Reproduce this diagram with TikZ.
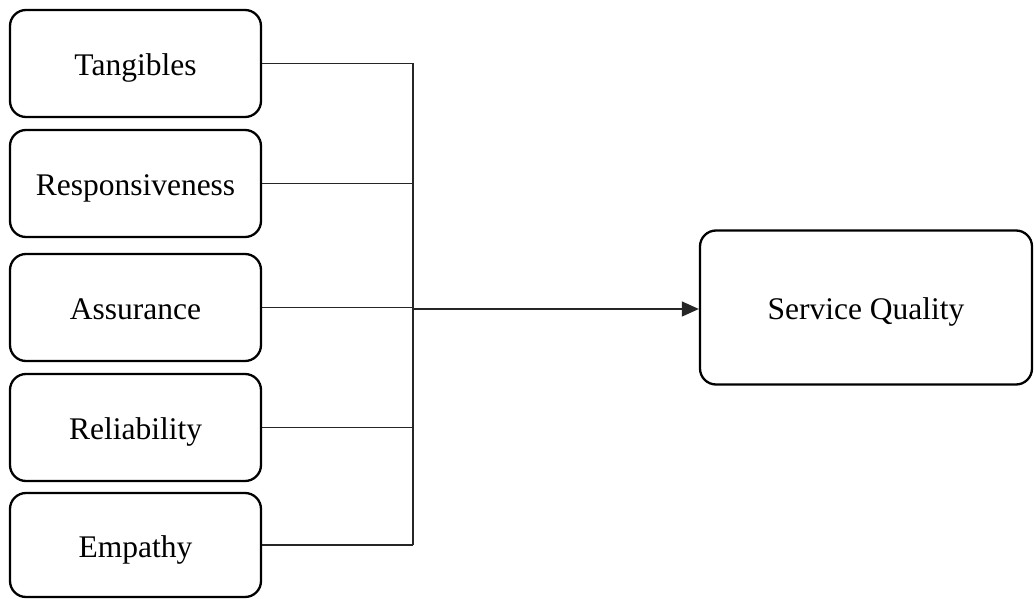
\documentclass[tikz,border=0pt]{standalone}
\usepackage{fontspec}
\setmainfont{Liberation Serif}
\usetikzlibrary{arrows.meta}
\begin{document}
\begin{tikzpicture}[x=1pt,y=-1pt,
  box/.style={draw=black, line width=2.3pt, rounded corners=16pt, inner sep=0pt,
    text height=24pt, text depth=0pt,
    font=\fontsize{31.5}{36}\selectfont},
  conn/.style={draw=black!85, line width=1.3pt}]
\useasboundingbox (0,0) rectangle (1034,599);
\node[box, minimum width=251pt, minimum height=107pt] (tan) at (135.5,63.5) {Tangibles};
\node[box, minimum width=251pt, minimum height=107pt] (res) at (135.5,183.5) {Responsiveness};
\node[box, minimum width=251pt, minimum height=107pt] (ass) at (135.5,307.5) {Assurance};
\node[box, minimum width=251pt, minimum height=107pt] (rel) at (135.5,427.5) {Reliability};
\node[box, minimum width=251pt, minimum height=104pt] (emp) at (135.5,545) {Empathy};
\node[box, minimum width=332pt, minimum height=154pt] (sq) at (866,307.5) {Service Quality};
\coordinate (top) at (413,63.5);
\coordinate (bot) at (413,545);
\coordinate (mid) at (413,309);
\draw[conn] (tan.east) -- (top);
\draw[conn] (res.east) -- (413,183.5);
\draw[conn] (ass.east) -- (413,307.5);
\draw[conn] (rel.east) -- (413,427.5);
\draw[conn] (emp.east) -- (bot);
\draw[conn] (top) -- (bot);
\draw[conn, -{Triangle[length=17pt,width=15pt]}] (mid) -- (sq.west |- mid);
\end{tikzpicture}
\end{document}
